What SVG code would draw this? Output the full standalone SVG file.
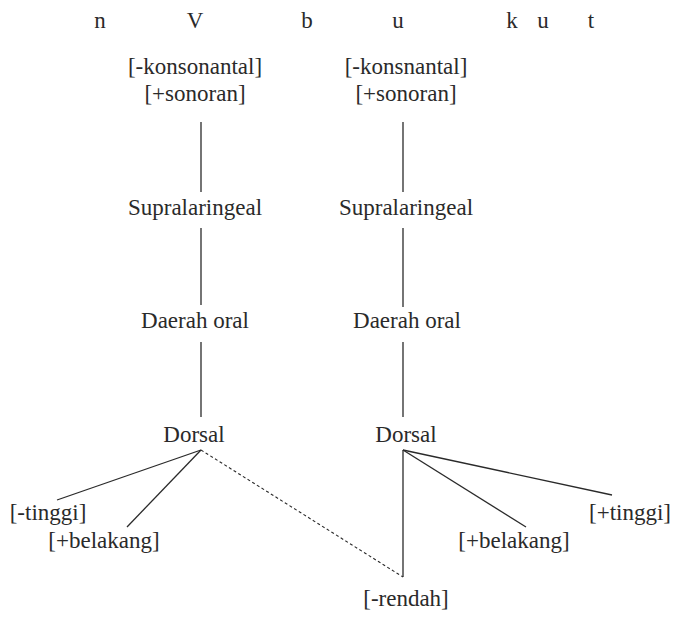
<svg xmlns="http://www.w3.org/2000/svg" width="673" height="617" viewBox="0 0 673 617">
<style>
text{font-family:"Liberation Serif","Times New Roman",serif;font-size:23px;fill:#2a2a2a;text-anchor:middle}
.c line{stroke:#2a2a2a;stroke-width:1.3;fill:none}
.c .d{stroke-dasharray:3,2.5;stroke-width:1.1}
</style>
<rect width="673" height="617" fill="#fff"/>
<g id="segments">
<text x="100" y="28">n</text>
<text x="195" y="28">V</text>
<text x="307" y="28">b</text>
<text x="398" y="28">u</text>
<text x="512" y="28">k</text>
<text x="543" y="28">u</text>
<text x="591" y="28">t</text>
</g>
<g id="root1"><text x="195" y="74">[-konsonantal]</text><text x="195" y="101">[+sonoran]</text></g>
<g id="root2"><text x="406" y="74">[-konsnantal]</text><text x="406" y="101">[+sonoran]</text></g>
<g id="supra1"><text x="195" y="215">Supralaringeal</text></g>
<g id="supra2"><text x="406" y="215">Supralaringeal</text></g>
<g id="oral1"><text x="195" y="328">Daerah oral</text></g>
<g id="oral2"><text x="407" y="328">Daerah oral</text></g>
<g id="dorsal1"><text x="194" y="442">Dorsal</text></g>
<g id="dorsal2"><text x="406" y="442">Dorsal</text></g>
<g id="tinggi1"><text x="48" y="520">[-tinggi]</text></g>
<g id="belakang1"><text x="104" y="548">[+belakang]</text></g>
<g id="rendah"><text x="406" y="606">[-rendah]</text></g>
<g id="belakang2"><text x="514" y="548">[+belakang]</text></g>
<g id="tinggi2"><text x="630" y="520">[+tinggi]</text></g>
<g id="connectors" class="c">
<line x1="201" y1="122" x2="201" y2="192"/>
<line x1="403" y1="122" x2="403" y2="192"/>
<line x1="201" y1="228" x2="201" y2="305"/>
<line x1="403" y1="228" x2="403" y2="307"/>
<line x1="201" y1="342" x2="201" y2="417"/>
<line x1="403" y1="342" x2="403" y2="417"/>
<line x1="201" y1="450" x2="57" y2="500"/>
<line x1="201" y1="450" x2="127" y2="527"/>
<line class="d" x1="201" y1="450" x2="403" y2="577"/>
<line x1="403" y1="450" x2="403" y2="577"/>
<line x1="403" y1="450" x2="526" y2="527"/>
<line x1="403" y1="450" x2="612" y2="495"/>
</g>
</svg>
